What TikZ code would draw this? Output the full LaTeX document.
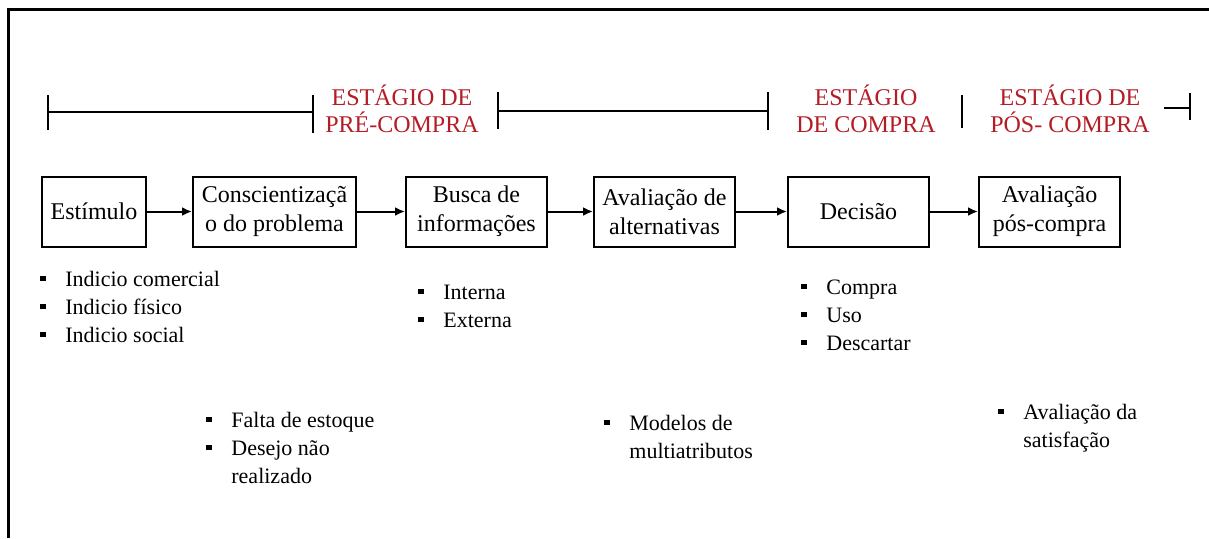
\documentclass[tikz,border=0pt]{standalone}
\usepackage{fontspec}
\setmainfont{Liberation Serif}
\usetikzlibrary{arrows.meta}
\definecolor{estagio}{RGB}{180,28,38}
\newcommand\marca{\makebox[12.5pt][l]{\rule[2.4pt]{2.6pt}{2.6pt}}}
\newcommand\recuo{\hspace*{12.5pt}}
\begin{document}
\begin{tikzpicture}[x=0.5pt,y=-0.5pt]
\tikzset{
  etapa/.style={draw,line width=1pt,minimum height=35pt,minimum width=70.5pt,
    align=center,inner sep=2pt,font=\fontsize{12}{14.5}\selectfont},
  titulo/.style={text=estagio,align=center,inner sep=0pt,anchor=base,
    font=\fontsize{12}{13.5}\selectfont},
  lista/.style={align=left,inner sep=0pt,anchor=base west,
    font=\fontsize{11}{14}\selectfont},
  seta/.style={line width=1pt,-{Latex[length=5pt,width=4.5pt]}},
  barra/.style={line width=0.8pt},
}
\useasboundingbox (0,0) rectangle (1209,538);
% moldura
\draw[line width=1.5pt] (8.5,538) -- (8.5,9.5) -- (1209,9.5);
% estagios
\foreach \px/\ya/\yb in {48/95/130, 313/95/133, 498/92/129, 768/92/130, 962/95/128, 1190/93/120}{
  \draw[barra] (\px,\ya) -- (\px,\yb);
}
\draw[barra] (48,112) -- (313,112);
\draw[barra] (498,111) -- (768,111);
\draw[barra] (1164,108) -- (1190,108);
\node[titulo] (pre) at (402,132) {ESTÁGIO DE\\PRÉ-COMPRA};
\node[titulo] (compra) at (866,132) {ESTÁGIO\\DE COMPRA};
\node[titulo] (pos) at (1070,132) {ESTÁGIO DE\\PÓS- COMPRA};
% etapas
\node[etapa,minimum width=52pt] (e1) at (94,211.5) {Estímulo};
\node[etapa,minimum width=81.5pt] (e2) at (274.5,211.5) {Conscientizaçã\\o do problema};
\node[etapa] (e3) at (476.5,211.5) {Busca de\\informações};
\node[etapa] (e4) at (664.5,211.5) {Avaliação de\\alternativas};
\node[etapa] (e5) at (858.5,211.5) {Decisão};
\node[etapa] (e6) at (1049.5,211.5) {Avaliação\\pós-compra};
\foreach \de/\para in {1/2,2/3,3/4,4/5,5/6}{
  \draw[seta] (e\de) -- (e\para);
}
% listas
\node[lista] (l1) at (40,342) {\marca Indicio comercial\\\marca Indicio físico\\\marca Indicio social};
\node[lista] (l2) at (418,327) {\marca Interna\\\marca Externa};
\node[lista] (l3) at (206,483) {\marca Falta de estoque\\\marca Desejo não\\\recuo realizado};
\node[lista] (l4) at (801,350) {\marca Compra\\\marca Uso\\\marca Descartar};
\node[lista] (l5) at (604,458) {\marca Modelos de\\\recuo multiatributos};
\node[lista] (l6) at (998,447) {\marca Avaliação da\\\recuo satisfação};
\end{tikzpicture}
\end{document}
